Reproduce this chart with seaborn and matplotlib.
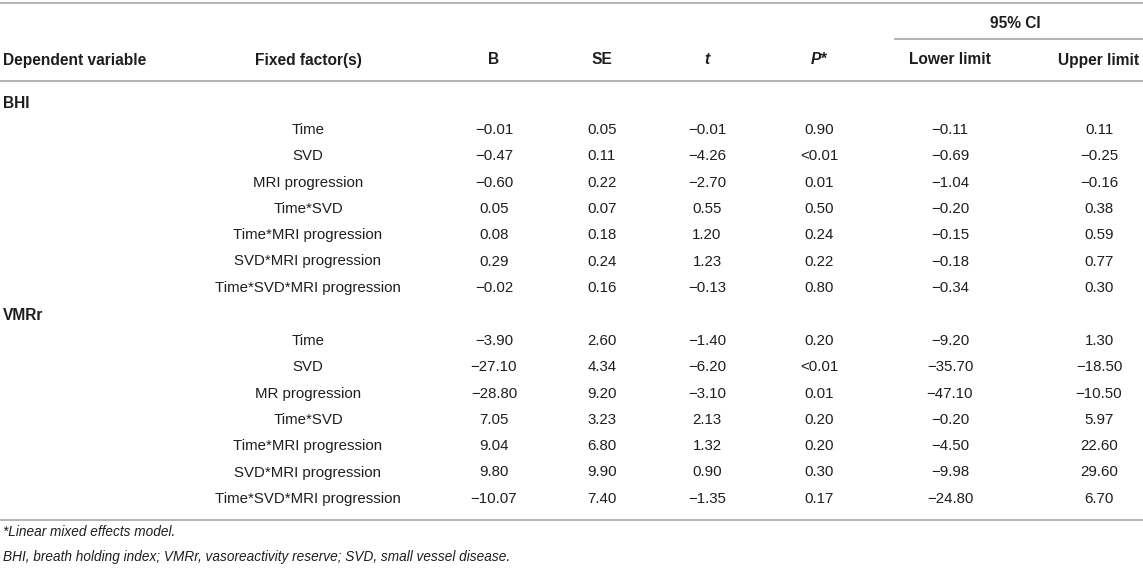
import matplotlib
matplotlib.use("Agg")
import matplotlib.pyplot as plt
import seaborn as sns
import pandas as pd

# table contents
dependent_vars = ["BHI", "VMRr"]
factors_bhi = ["Time", "SVD", "MRI progression", "Time*SVD", "Time*MRI progression",
               "SVD*MRI progression", "Time*SVD*MRI progression"]
factors_vmrr = ["Time", "SVD", "MR progression", "Time*SVD", "Time*MRI progression",
                "SVD*MRI progression", "Time*SVD*MRI progression"]

b_bhi = [-0.01, -0.47, -0.60, 0.05, 0.08, 0.29, -0.02]
se_bhi = [0.05, 0.11, 0.22, 0.07, 0.18, 0.24, 0.16]
t_bhi = [-0.01, -4.26, -2.70, 0.55, 1.20, 1.23, -0.13]
p_bhi = ["0.90", "<0.01", "0.01", "0.50", "0.24", "0.22", "0.80"]
lower_bhi = [-0.11, -0.69, -1.04, -0.20, -0.15, -0.18, -0.34]
upper_bhi = [0.11, -0.25, -0.16, 0.38, 0.59, 0.77, 0.30]

b_vmrr = [-3.90, -27.10, -28.80, 7.05, 9.04, 9.80, -10.07]
se_vmrr = [2.60, 4.34, 9.20, 3.23, 6.80, 9.90, 7.40]
t_vmrr = [-1.40, -6.20, -3.10, 2.13, 1.32, 0.90, -1.35]
p_vmrr = ["0.20", "<0.01", "0.01", "0.20", "0.20", "0.30", "0.17"]
lower_vmrr = [-9.20, -35.70, -47.10, -0.20, -4.50, -9.98, -24.80]
upper_vmrr = [1.30, -18.50, -10.50, 5.97, 22.60, 29.60, 6.70]

headers = ["Dependent variable", "Fixed factor(s)", "B", "SE", "t", "P*", "Lower limit", "Upper limit"]
group_header = "95% CI"
footnotes = ["*Linear mixed effects model.",
             "BHI, breath holding index; VMRr, vasoreactivity reserve; SVD, small vessel disease."]


def fmt(v):
    s = f"{abs(v):.2f}"
    return ("\u2212" + s) if v < 0 else s


def build_frame(dep, factors, b, se, t, p, lo, up):
    return pd.DataFrame({
        "dep": dep, "factor": factors,
        "B": [fmt(v) for v in b], "SE": [fmt(v) for v in se], "t": [fmt(v) for v in t],
        "P": p, "lower": [fmt(v) for v in lo], "upper": [fmt(v) for v in up],
    })


blocks = [
    build_frame(dependent_vars[0], factors_bhi, b_bhi, se_bhi, t_bhi, p_bhi, lower_bhi, upper_bhi),
    build_frame(dependent_vars[1], factors_vmrr, b_vmrr, se_vmrr, t_vmrr, p_vmrr, lower_vmrr, upper_vmrr),
]

sns.set_theme(style="white")
plt.rcParams["font.family"] = ["Liberation Sans", "DejaVu Sans"]

W, H = 1143, 568
fig = plt.figure(figsize=(W / 100, H / 100), dpi=100)
ax = fig.add_axes([0, 0, 1, 1])
ax.set_xlim(0, W)
ax.set_ylim(H, 0)
ax.axis("off")

txt = "#1e1e1e"
rule = "#a8a8a8"
fs = 10.8
fs_head = 11.2
fs_note = 9.8

# column centres (pixels)
col_x = {"factor": 308, "B": 494, "SE": 602, "t": 707, "P": 819, "lower": 950, "upper": 1099}
value_cols = ["factor", "B", "SE", "t", "P", "lower", "upper"]

# rules
ax.hlines([3, 81, 520], 0, W, color=rule, lw=1.2)
ax.hlines(39, 894, W, color=rule, lw=1.2)

# header
ax.text(1015, 24, group_header, ha="center", va="center", fontsize=fs_head, fontweight="bold", color=txt)
hy = 60
ax.text(3, hy, headers[0], ha="left", va="center", fontsize=fs_head, fontweight="bold", color=txt)
for key, lab in zip(value_cols, headers[1:]):
    style = "italic" if lab in ("t", "P*") else "normal"
    ax.text(col_x[key], hy, lab, ha="center", va="center", fontsize=fs_head,
            fontweight="bold", fontstyle=style, color=txt)

# body
group_y = [104, 315]
row_step = 26.3
for gy, df in zip(group_y, blocks):
    ax.text(3, gy, df["dep"].iloc[0], ha="left", va="center", fontsize=fs_head,
            fontweight="bold", color=txt)
    for i, row in df.reset_index(drop=True).iterrows():
        y = gy + 26 + i * row_step
        for key in value_cols:
            ax.text(col_x[key], y, row[key], ha="center", va="center", fontsize=fs, color=txt)

# footnotes
ax.text(3, 532, footnotes[0], ha="left", va="center", fontsize=fs_note, fontstyle="italic", color=txt)
ax.text(3, 557, footnotes[1], ha="left", va="center", fontsize=fs_note, fontstyle="italic", color=txt)

fig.savefig("out.png", dpi=100, facecolor="white")
